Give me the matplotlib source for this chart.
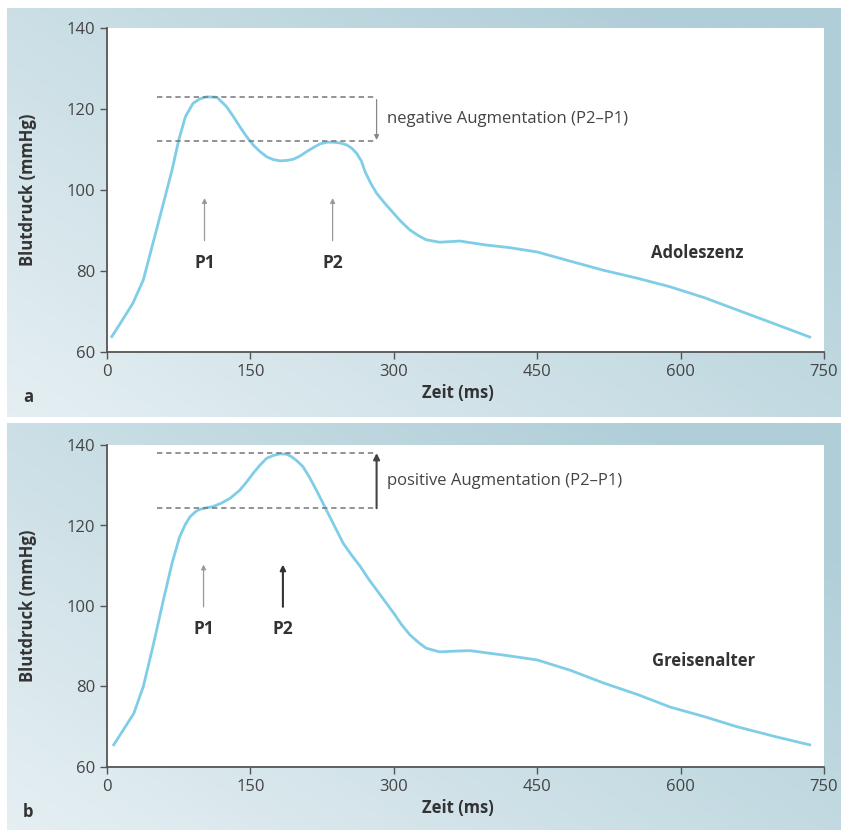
import matplotlib.pyplot as plt
import numpy as np

# Adoleszenz (a)
time_a = [5, 14, 27, 38, 48, 59, 68, 75, 82, 90, 97, 104, 115, 125, 132, 139, 146, 153, 160,
          167, 174, 181, 188, 195, 202, 209, 216, 223, 230, 237, 244, 251, 256, 261, 266, 270,
          276, 282, 291, 300, 308, 317, 326, 334, 348, 369, 397, 420, 450, 485, 519, 555, 589,
          625, 659, 700, 735]
pressure_a = [63.8, 67.1, 72.0, 77.8, 86.8, 96.7, 104.9, 112.3, 118.1, 121.4, 122.5, 123.0,
              122.9, 120.6, 118.2, 115.6, 113.2, 111.1, 109.5, 108.2, 107.5, 107.2, 107.3, 107.6,
              108.4, 109.5, 110.5, 111.4, 111.8, 111.8, 111.6, 111.1, 110.3, 109.1, 107.2, 104.5,
              101.6, 99.2, 96.6, 94.2, 92.1, 90.1, 88.7, 87.7, 87.1, 87.4, 86.4, 85.8, 84.7, 82.4,
              80.2, 78.2, 76.1, 73.4, 70.4, 66.8, 63.7]

# Greisenalter (b)
time_b = [7, 17, 28, 38, 48, 59, 68, 76, 82, 87, 93, 97, 104, 111, 120, 129, 139, 146, 153, 160,
          167, 174, 181, 188, 193, 199, 205, 212, 219, 226, 233, 240, 247, 256, 265, 273, 282,
          291, 300, 308, 317, 326, 334, 348, 365, 380, 415, 450, 485, 519, 555, 589, 625, 659,
          700, 735]
pressure_b = [65.5, 69.2, 73.3, 80, 89.9, 101.5, 110.6, 117.2, 120.3, 122.2, 123.5, 124.0, 124.4,
              124.7, 125.6, 126.8, 128.8, 130.8, 133.0, 135.0, 136.7, 137.4, 137.8, 137.7, 137.1,
              136.0, 134.6, 131.9, 128.8, 125.5, 122.2, 118.9, 115.6, 112.6, 109.8, 106.9, 104,
              101.1, 98.2, 95.4, 92.8, 90.9, 89.5, 88.6, 88.8, 88.9, 87.8, 86.6, 84, 80.9, 78,
              74.9, 72.5, 70, 67.5, 65.5]

# Markierungen: (P1, P2), Augmentation (oben, unten)
peaks_a = [102, 236]
aug_a = [123, 112]
peaks_b = [101, 184]
aug_b = [138, 124.3]

plt.rcParams['font.family'] = ['Open Sans', 'DejaVu Sans']

W, H = 841, 830
fig = plt.figure(figsize=(W / 100, H / 100), dpi=100)

def background(rect):
    bg = fig.add_axes(rect, zorder=-10)
    u = np.linspace(0, 1, 200)[None, :]
    v = np.linspace(1, 0, 200)[:, None]
    t = np.clip(0.6 * u + 0.45 * v + 0.08, 0, 1)
    c0 = np.array([0xea, 0xf2, 0xf5]) / 255
    c1 = np.array([0xb0, 0xce, 0xd8]) / 255
    img = c0[None, None, :] * (1 - t[..., None]) + c1[None, None, :] * t[..., None]
    bg.imshow(img, aspect='auto', extent=[0, 1, 0, 1])
    bg.axis('off')

background([7 / W, 1 - 417 / H, 834 / W, 409 / H])
background([7 / W, 0, 834 / W, 407 / H])

curve_color = '#7fcde6'
txt = '#333333'

def panel(rect, t, p, peaks, aug, aug_text, aug_up, label, age, age_pos, p2_dark):
    ax = fig.add_axes(rect)
    ax.set_facecolor('white')
    ax.plot(t, p, color=curve_color, lw=2, solid_joinstyle='round')
    ax.set_xlim(0, 750)
    ax.set_ylim(60, 140)
    ax.set_xticks([0, 150, 300, 450, 600, 750])
    ax.set_yticks([60, 80, 100, 120, 140])
    for s in ['top', 'right']:
        ax.spines[s].set_visible(False)
    for s in ['left', 'bottom']:
        ax.spines[s].set_color('#555555')
        ax.spines[s].set_linewidth(1.3)
    ax.tick_params(colors='#555555', labelcolor='#444444', labelsize=12, length=5, width=1)
    ax.set_xlabel('Zeit (ms)', fontsize=12, fontweight='bold', color=txt, labelpad=2)
    ax.set_ylabel('Blutdruck (mmHg)', fontsize=12, fontweight='bold', color=txt, labelpad=10)

    ax.hlines(aug, 52, 282, colors='#777777', linestyles=(0, (3.5, 2.5)), lw=1.1)
    if aug_up:
        ax.annotate('', xy=(282, aug[0]), xytext=(282, aug[1]),
                    arrowprops=dict(arrowstyle='-|>', color='#444444', lw=1.5,
                                    mutation_scale=9, shrinkA=0, shrinkB=0))
    else:
        ax.annotate('', xy=(282, aug[1]), xytext=(282, aug[0]),
                    arrowprops=dict(arrowstyle='-|>', color='#888888', lw=0.9,
                                    mutation_scale=7, shrinkA=2, shrinkB=1))
    ax.text(293, (aug[0] + aug[1]) / 2, aug_text, fontsize=12, color='#444444',
            va='center', ha='left')

    base = aug[1] - 24.5
    for i, (x, name) in enumerate(zip(peaks, ['P1', 'P2'])):
        dark = p2_dark and i == 1
        ax.annotate('', xy=(x, base + 10.5), xytext=(x, base),
                    arrowprops=dict(arrowstyle='-|>', color='#333333' if dark else '#999999',
                                    lw=1.5 if dark else 0.9, mutation_scale=8 if dark else 7,
                                    shrinkA=0, shrinkB=0))
        ax.text(x, base - 5.5, name, fontsize=12.5, fontweight='bold', color=txt,
                ha='center', va='center')

    ax.text(age_pos[0], age_pos[1], age, fontsize=12, fontweight='bold', color=txt,
            ha='center', va='center')
    ax.yaxis.set_label_coords(-0.098, 0.5)
    ax.xaxis.set_label_coords(0.49, -0.1)
    fig.text(28 / W, label, 'a' if age == 'Adoleszenz' else 'b', fontsize=12,
             fontweight='bold', color=txt, ha='center', va='center')
    return ax

panel([107 / W, 1 - 352 / H, 717 / W, 324 / H], time_a, pressure_a, peaks_a, aug_a,
      'negative Augmentation (P2–P1)', False, 1 - 397 / H, 'Adoleszenz', (617, 84.4), False)
panel([107 / W, 1 - 767 / H, 717 / W, 322 / H], time_b, pressure_b, peaks_b, aug_b,
      'positive Augmentation (P2–P1)', True, 1 - 812 / H, 'Greisenalter', (624, 86.3), True)

fig.savefig('out.png', dpi=100, facecolor='white')
